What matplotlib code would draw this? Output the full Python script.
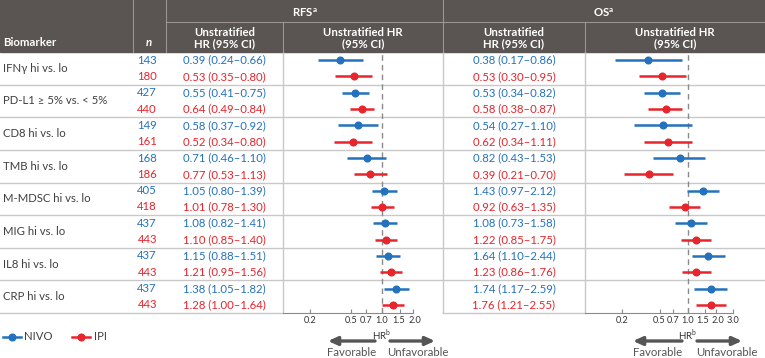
import numpy as np
import matplotlib.pyplot as plt
from matplotlib.lines import Line2D

plt.rcParams["font.family"] = ["Lato", "DejaVu Sans"]
plt.rcParams["mathtext.fontset"] = "custom"
plt.rcParams["mathtext.rm"] = "Lato"
plt.rcParams["mathtext.bf"] = "Lato:bold"

# data
biomarkers = ["IFNγ hi vs. lo", "PD-L1 ≥ 5% vs. < 5%", "CD8 hi vs. lo", "TMB hi vs. lo",
              "M-MDSC hi vs. lo", "MIG hi vs. lo", "IL8 hi vs. lo", "CRP hi vs. lo"]
n_nivo = [143, 427, 149, 168, 405, 437, 437, 437]
n_ipi = [180, 440, 161, 186, 418, 443, 443, 443]

rfs_nivo = [0.39, 0.55, 0.58, 0.71, 1.05, 1.08, 1.15, 1.38]
rfs_nivo_lo = [0.24, 0.41, 0.37, 0.46, 0.80, 0.82, 0.88, 1.05]
rfs_nivo_hi = [0.66, 0.75, 0.92, 1.10, 1.39, 1.41, 1.51, 1.82]
rfs_ipi = [0.53, 0.64, 0.52, 0.77, 1.01, 1.10, 1.21, 1.28]
rfs_ipi_lo = [0.35, 0.49, 0.34, 0.53, 0.78, 0.85, 0.95, 1.00]
rfs_ipi_hi = [0.80, 0.84, 0.80, 1.13, 1.30, 1.40, 1.56, 1.64]

os_nivo = [0.38, 0.53, 0.54, 0.82, 1.43, 1.08, 1.64, 1.74]
os_nivo_lo = [0.17, 0.34, 0.27, 0.43, 0.97, 0.73, 1.10, 1.17]
os_nivo_hi = [0.86, 0.82, 1.10, 1.53, 2.12, 1.58, 2.44, 2.59]
os_ipi = [0.53, 0.58, 0.62, 0.39, 0.92, 1.22, 1.23, 1.76]
os_ipi_lo = [0.30, 0.38, 0.34, 0.21, 0.63, 0.85, 0.86, 1.21]
os_ipi_hi = [0.95, 0.87, 1.11, 0.70, 1.35, 1.75, 1.76, 2.55]

rfs_ticks = [0.2, 0.5, 0.7, 1.0, 1.5, 2.0]
os_ticks = [0.2, 0.5, 0.7, 1.0, 1.5, 2.0, 3.0]

BLUE = "#2471bd"
RED = "#e8242c"
TXT = "#404040"
HEAD = "#5a5552"
GRID = "#c8c8c8"
FS = 8.2

W, H = 765, 358
fig = plt.figure(figsize=(W / 100, H / 100), dpi=100)

# background axes in pixel coordinates for the table
bg = fig.add_axes([0, 0, 1, 1])
bg.set_xlim(0, W)
bg.set_ylim(H, 0)
bg.axis("off")

top, bottom = 52, 313
gh = (bottom - top) / len(biomarkers)
x_n, x_rfs_txt, x_rfs_plot, x_os_txt, x_os_plot = 133, 166, 283, 443, 585

# header
bg.add_patch(plt.Rectangle((0, 0), W, top, color=HEAD, zorder=0))
hl = "#9a9592"
for x in [x_n, x_rfs_txt, x_os_txt]:
    bg.plot([x, x], [0, top], color=hl, lw=0.8)
for x in [x_rfs_plot, x_os_plot]:
    bg.plot([x, x], [22, top], color=hl, lw=0.8)
bg.plot([x_rfs_txt, W], [22, 22], color=hl, lw=0.8)

hkw = dict(color="white", fontweight="bold", fontsize=FS, ha="center", va="center")
bg.text(3, 43, "Biomarker", **{**hkw, "ha": "left"})
bg.text(149, 43, "n", **{**hkw, "fontstyle": "italic"})
bg.text((x_rfs_txt + x_os_txt) / 2, 13, r"RFS$^\mathbf{a}$", **hkw)
bg.text((x_os_txt + W) / 2, 13, r"OS$^\mathbf{a}$", **hkw)
for x0, x1 in [(x_rfs_txt, x_rfs_plot), (x_os_txt, x_os_plot)]:
    bg.text((x0 + x1) / 2, 32, "Unstratified", **hkw)
    bg.text((x0 + x1) / 2, 44, "HR (95% CI)", **hkw)
for x0, x1 in [(x_rfs_plot, x_os_txt), (x_os_plot, W)]:
    bg.text((x0 + x1) / 2, 32, "Unstratified HR", **hkw)
    bg.text((x0 + x1) / 2, 44, "(95% CI)", **hkw)

# table body
fmt = lambda h, l, u: f"{h:.2f} ({l:.2f}–{u:.2f})"
for i, name in enumerate(biomarkers):
    g0 = top + i * gh
    y1, y2 = g0 + gh * 0.25, g0 + gh * 0.75
    bg.text(3, g0 + gh / 2, name, color=TXT, fontsize=FS, va="center")
    bg.text(157, y1, str(n_nivo[i]), color=BLUE, fontsize=FS, va="center", ha="right")
    bg.text(157, y2, str(n_ipi[i]), color=RED, fontsize=FS, va="center", ha="right")
    cx = (x_rfs_txt + x_rfs_plot) / 2
    bg.text(cx, y1, fmt(rfs_nivo[i], rfs_nivo_lo[i], rfs_nivo_hi[i]), color=BLUE, fontsize=FS, va="center", ha="center")
    bg.text(cx, y2, fmt(rfs_ipi[i], rfs_ipi_lo[i], rfs_ipi_hi[i]), color=RED, fontsize=FS, va="center", ha="center")
    cx = (x_os_txt + x_os_plot) / 2
    bg.text(cx, y1, fmt(os_nivo[i], os_nivo_lo[i], os_nivo_hi[i]), color=BLUE, fontsize=FS, va="center", ha="center")
    bg.text(cx, y2, fmt(os_ipi[i], os_ipi_lo[i], os_ipi_hi[i]), color=RED, fontsize=FS, va="center", ha="center")
    if i > 0:
        bg.plot([0, W], [g0, g0], color=GRID, lw=1, zorder=1)
bg.plot([0, x_rfs_plot], [bottom, bottom], color=GRID, lw=1)
bg.plot([x_os_txt, x_os_plot], [bottom, bottom], color=GRID, lw=1)
for x in [x_rfs_plot, x_os_txt, x_os_plot]:
    bg.plot([x, x], [top, bottom], color=GRID, lw=1, zorder=1)


def forest(x0, x1, xlim, ticks, nivo, nlo, nhi, ipi, ilo, ihi):
    ax = fig.add_axes([x0 / W, 1 - bottom / H, (x1 - x0) / W, (bottom - top) / H])
    ax.patch.set_alpha(0)
    ax.set_xscale("log")
    ax.set_xlim(*xlim)
    ax.set_ylim(len(nivo) * 2, 0)
    ypos = np.arange(len(nivo)) * 2
    for y, h, l, u, c in [(ypos + 0.5, nivo, nlo, nhi, BLUE), (ypos + 1.5, ipi, ilo, ihi, RED)]:
        ax.hlines(y, l, u, color=c, lw=1.8, zorder=3)
        ax.plot(h, y, "o", color=c, ms=4.8, zorder=4)
    ax.axvline(1.0, color="#8a8a8a", ls=(0, (4, 3)), lw=1, zorder=2)
    for s in ["top", "left", "right"]:
        ax.spines[s].set_visible(False)
    ax.spines["bottom"].set_bounds(xlim[0], ticks[-1])
    ax.spines["bottom"].set_color("#8a8a8a")
    ax.set_xticks(ticks)
    ax.set_xticklabels([])
    ax.xaxis.set_minor_locator(plt.NullLocator())
    ax.tick_params(axis="x", direction="in", length=3, color="#8a8a8a")
    # tick labels drawn by hand so the crowded 1.5 / 2.0 pair can be nudged apart
    nudge = {1.5: -1.2, 2.0: 1.2}
    for t in ticks:
        ax.annotate(f"{t:.1f}", xy=(t, 0), xycoords=ax.get_xaxis_transform(), xytext=(nudge.get(t, 0), -2.5),
                    textcoords="offset points", ha="center", va="top", fontsize=6.6, color="#333333")
    ax.set_yticks([])
    ax.text(1.0, -0.085, r"HR$^\mathrm{b}$", transform=ax.get_xaxis_transform(), ha="center", va="center",
            fontsize=7, color="#333333")
    return ax


forest(x_rfs_plot, x_os_txt, (0.109, 3.92), rfs_ticks, rfs_nivo, rfs_nivo_lo, rfs_nivo_hi, rfs_ipi, rfs_ipi_lo, rfs_ipi_hi)
forest(x_os_plot, W, (0.0813, 6.54), os_ticks, os_nivo, os_nivo_lo, os_nivo_hi, os_ipi, os_ipi_lo, os_ipi_hi)

# favorable / unfavorable arrows
akw = dict(arrowstyle="-|>,head_width=0.25,head_length=0.55", lw=2.4, color="#555555", shrinkA=0, shrinkB=0)
for left, right, fx, ux in [((375, 328), (390, 435), 352, 418), ((682, 633), (697, 742), 658, 727)]:
    bg.annotate("", xy=(left[1], 341), xytext=(left[0], 341), arrowprops=akw)
    bg.annotate("", xy=(right[1], 341), xytext=(right[0], 341), arrowprops=akw)
    bg.text(fx, 352, "Favorable", ha="center", va="center", fontsize=FS, color="#555555")
    bg.text(ux, 352, "Unfavorable", ha="center", va="center", fontsize=FS, color="#555555")

handles = [Line2D([], [], color=BLUE, lw=1.8, marker="o", ms=4.8, label="NIVO"),
           Line2D([], [], color=RED, lw=1.8, marker="o", ms=4.8, label="IPI")]
fig.legend(handles=handles, loc="center left", bbox_to_anchor=(-0.01, 1 - 337 / H), ncol=2, frameon=False,
           fontsize=FS, handlelength=1.6, handletextpad=0.3, columnspacing=1.7, labelcolor=TXT)

fig.savefig("out.png", dpi=100)
